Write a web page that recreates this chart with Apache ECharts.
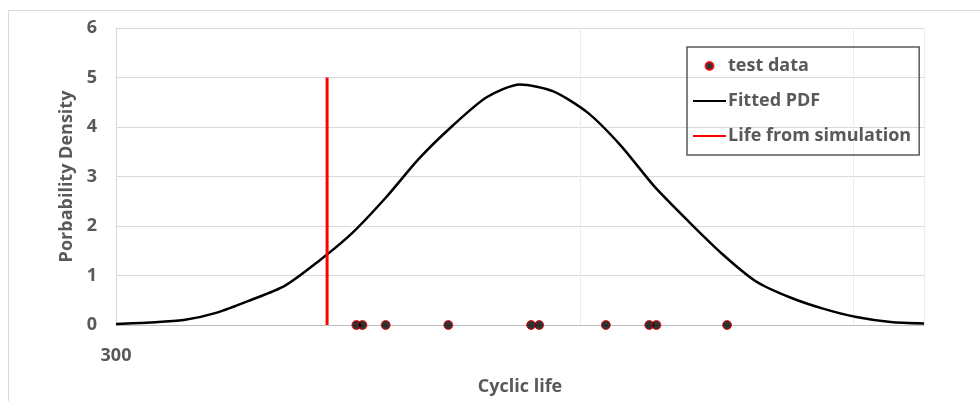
<!DOCTYPE html>
<html>
<head>
<meta charset="utf-8">
<title>Cyclic life PDF</title>
<script src="https://cdn.jsdelivr.net/npm/echarts@6/dist/echarts.min.js"></script>
<style>
  html, body { margin: 0; padding: 0; background: #fff; }
  #chart { width: 980px; height: 401px; }
</style>
</head>
<body>
<div id="chart"></div>
<script>
const pdfLife = [300, 333, 367, 400, 433, 467, 500, 533, 567, 600, 633, 667, 700,
                 733, 767, 800, 833, 867, 900, 933, 967, 1000, 1033, 1067, 1100];
const pdfDensity = [0.02, 0.05, 0.10, 0.25, 0.50, 0.79, 1.28, 1.84, 2.57, 3.36, 4.02, 4.60, 4.86,
                    4.72, 4.29, 3.62, 2.80, 2.09, 1.44, 0.89, 0.56, 0.33, 0.16, 0.06, 0.03];

// test data points sit on the zero line
const testLife = [538, 544, 567, 629, 711, 719, 785, 828, 835, 905];
const testDensity = [0, 0, 0, 0, 0, 0, 0, 0, 0, 0];

// life from simulation, drawn as a vertical line
const simLife = [509, 509];
const simDensity = [0, 5];

const xLabelTicks = [300];
const xGridTicks = [760, 1030, 1100];

const zip = (a, b) => a.map((v, i) => [v, b[i]]);

const txt = { color: '#595959', fontWeight: 'bold', fontFamily: 'Open Sans', fontSize: 18 };

const chart = echarts.init(document.getElementById('chart'));
chart.setOption({
  animation: false,
  backgroundColor: '#fff',
  graphic: [{
    type: 'rect',
    shape: { x: 8.5, y: 10.5, width: 1000, height: 500 },
    style: { fill: null, stroke: '#d9d9d9', lineWidth: 1 },
    silent: true
  }],
  grid: { left: 116, right: 56, top: 28, bottom: 75 },
  legend: {
    orient: 'vertical',
    left: 687,
    top: 47,
    padding: [10, 8, 10, 5],
    borderColor: '#595959',
    borderWidth: 1.5,
    itemWidth: 33,
    itemHeight: 8,
    itemGap: 17,
    textStyle: { ...txt, padding: [0, 0, 0, -3] },
    data: [
      { name: 'test data' },
      { name: 'Fitted PDF', itemStyle: { opacity: 0 } },
      { name: 'Life from simulation', itemStyle: { opacity: 0 } }
    ]
  },
  xAxis: {
    type: 'value',
    min: 300,
    max: 1100,
    name: 'Cyclic life',
    nameLocation: 'middle',
    nameGap: 53,
    nameTextStyle: txt,
    axisLine: { show: true, lineStyle: { color: '#bfbfbf', width: 1 } },
    axisTick: { show: false, customValues: xGridTicks },
    axisLabel: { customValues: xLabelTicks, margin: 22, ...txt },
    splitLine: { show: true, lineStyle: { color: '#ededed', width: 1 } }
  },
  yAxis: {
    type: 'value',
    min: 0,
    max: 6,
    interval: 1,
    name: 'Porbability Density',
    nameLocation: 'middle',
    nameGap: 40,
    nameTextStyle: txt,
    axisLine: { show: true, lineStyle: { color: '#d9d9d9' } },
    axisTick: { show: false },
    axisLabel: { margin: 19, ...txt },
    splitLine: { lineStyle: { color: '#d9d9d9', width: 1 } }
  },
  series: [
    {
      name: 'test data',
      type: 'scatter',
      data: zip(testLife, testDensity),
      symbol: 'circle',
      symbolSize: 9,
      itemStyle: { color: '#000', borderColor: '#ff0000', borderWidth: 1 },
      z: 5
    },
    {
      name: 'Fitted PDF',
      type: 'line',
      data: zip(pdfLife, pdfDensity),
      symbol: 'none',
      showSymbol: false,
      smooth: 0.25,
      lineStyle: { color: '#000', width: 2.5 },
      itemStyle: { color: '#000' },
      z: 3
    },
    {
      name: 'Life from simulation',
      type: 'line',
      data: zip(simLife, simDensity),
      symbol: 'none',
      showSymbol: false,
      lineStyle: { color: '#ff0000', width: 3 },
      itemStyle: { color: '#ff0000' },
      z: 4
    }
  ]
});
</script>
</body>
</html>
